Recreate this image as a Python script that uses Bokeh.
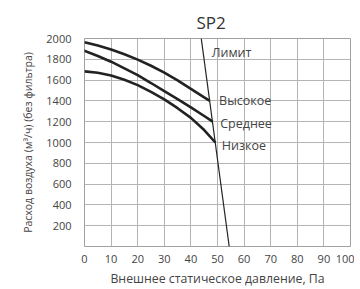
from bokeh.plotting import figure
from bokeh.models import FixedTicker, Range1d, ColumnDataSource
from bokeh.embed import file_html
from bokeh.resources import INLINE
from bokeh.core.properties import value

pressure_high = [0, 5, 10, 15, 20, 25, 30, 35, 40, 45, 47.1]
flow_high = [1965, 1932, 1894, 1848, 1797, 1738, 1672, 1597, 1515, 1433, 1400]
pressure_mid = [-0.8, 5, 10, 15, 20, 25, 30, 35, 40, 45, 48.2]
flow_mid = [1890, 1832, 1777, 1713, 1648, 1572, 1494, 1418, 1337, 1255, 1200]
pressure_low = [0, 5, 10, 15, 20, 25, 30, 35, 40, 45, 49.2]
flow_low = [1684, 1671, 1645, 1603, 1552, 1487, 1414, 1330, 1237, 1120, 1000]
limit_x = [43.9, 54.4]
limit_y = [2000, 0]

label_text = ["Лимит", "Высокое", "Среднее", "Низкое"]
label_x = [47.8, 50.6, 51.0, 51.6]
label_y = [1870, 1403, 1181, 971]

x_ticks = [0, 10, 20, 30, 40, 50, 60, 70, 80, 90, 100]
y_ticks = [200, 400, 600, 800, 1000, 1200, 1400, 1600, 1800, 2000]

FONT = "Open Sans"
TXT = "#444444"

p = figure(width=354, height=289, output_backend="svg", toolbar_location=None,
           x_range=Range1d(0, 100), y_range=Range1d(0, 2000),
           title="SP2")
p.min_border_left = 84
p.min_border_right = 4
p.min_border_top = 38
p.min_border_bottom = 39

p.title.text_font = FONT
p.title.text_font_size = "17px"
p.title.text_font_style = "normal"
p.title.text_color = "#333333"
p.title.align = "left"
p.title.offset = 112

for ax in (p.xaxis[0], p.yaxis[0]):
    ax.axis_line_color = None
    ax.major_tick_line_color = None
    ax.minor_tick_line_color = None
    ax.major_label_text_font = FONT
    ax.major_label_text_font_size = "11px"
    ax.major_label_text_color = TXT
    ax.axis_label_text_font = FONT
    ax.axis_label_text_font_style = "normal"
    ax.axis_label_text_color = TXT

p.xaxis.axis_label_text_font_size = "12.3px"
p.yaxis.axis_label_text_font_size = "10.5px"
p.xaxis.ticker = FixedTicker(ticks=x_ticks)
p.yaxis.ticker = FixedTicker(ticks=y_ticks)
p.xaxis.major_label_standoff = 2
p.yaxis.major_label_standoff = 7
p.xaxis.axis_label = "Внешнее статическое давление, Па"
p.yaxis.axis_label = "Расход воздуха (м³/ч) (без фильтра)"
p.xaxis.axis_label_standoff = 4
p.yaxis.axis_label_standoff = 8

p.xgrid.grid_line_color = "#b4b4b4"
p.ygrid.grid_line_color = "#b4b4b4"
p.outline_line_color = "#a0a0a0"
p.outline_line_width = 1

curve_color = "#222222"
p.line(pressure_high, flow_high, line_color=curve_color, line_width=2.6)
p.line(pressure_mid, flow_mid, line_color=curve_color, line_width=2.6)
p.line(pressure_low, flow_low, line_color=curve_color, line_width=2.6)
p.line(limit_x, limit_y, line_color=curve_color, line_width=1.2)

src = ColumnDataSource(dict(x=label_x, y=label_y, t=label_text))
p.text(x="x", y="y", text="t", source=src, text_font=value(FONT),
       text_font_size="12.5px", text_color=TXT, text_align="left",
       text_baseline="middle")

open("out.html", "w").write(file_html(p, INLINE))
